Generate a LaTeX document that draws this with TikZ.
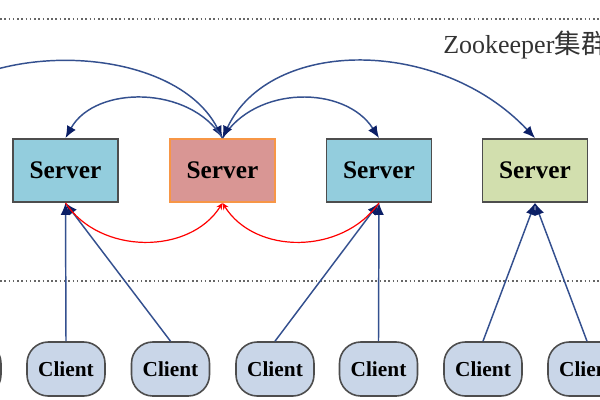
\documentclass[tikz,border=0pt]{standalone}
\usepackage{fontspec}
\setmainfont{Liberation Serif}
\newfontfamily\cjk{Noto Sans CJK SC}
\usetikzlibrary{arrows.meta}
\definecolor{srvblue}{HTML}{93CDDD}
\definecolor{srvred}{HTML}{D99694}
\definecolor{srvredb}{HTML}{F79646}
\definecolor{srvgreen}{HTML}{D2DFAE}
\definecolor{clifill}{HTML}{C9D6E8}
\definecolor{bord}{HTML}{4D4D4D}
\definecolor{navyln}{HTML}{34508F}
\definecolor{navytip}{HTML}{0B1F66}
\definecolor{dotgray}{HTML}{666666}
\tikzset{
  navyhead/.tip={Latex[length=9pt,width=7.5pt,color=navytip]},
  serverbox/.style={draw=bord, line width=1.4pt, minimum width=78.75pt, minimum height=47.25pt, inner sep=0pt, font=\fontsize{19}{21}\selectfont\bfseries},
  clientbox/.style={draw=bord, fill=clifill, line width=1.2pt, rounded corners=16pt, minimum width=58.5pt, minimum height=40.5pt, inner sep=0pt, font=\fontsize{16}{18}\selectfont\bfseries},
  bluearrow/.style={draw=navyln, line width=1.1pt, -navyhead},
  redarrow/.style={draw=red, line width=0.9pt, -{Stealth[length=5pt,width=4.5pt]}},
  dotline/.style={draw=dotgray, line width=1.1pt, dash pattern=on 1.2pt off 2pt},
}
\begin{document}
\begin{tikzpicture}[x=0.75pt,y=-0.75pt]
\useasboundingbox (0,0) rectangle (600,400);
\clip (0,0) rectangle (600,400);
\fill[white] (0,0) rectangle (600,400);
% dotted separators
\coordinate (d1a) at (0,19);
\coordinate (d1b) at (600,19);
\coordinate (d2a) at (0,281);
\coordinate (d2b) at (600,281);
\draw[dotline] (d1a) -- (d1b);
\draw[dotline] (d2a) -- (d2b);
% label
\node[anchor=base west, inner sep=0pt, text=black!80, font=\fontsize{19.5}{21}\selectfont] (lbl) at (443,53) {Zookeeper{\cjk\fontsize{20}{22}\selectfont 集群}};
% servers
\node[serverbox, fill=srvblue] (s1) at (65.5,170.5) {Server};
\node[serverbox, fill=srvred, draw=srvredb] (s2) at (222.5,170.5) {Server};
\node[serverbox, fill=srvblue] (s3) at (379,170.5) {Server};
\node[serverbox, fill=srvgreen] (s4) at (535,170.5) {Server};
% clients
\node[clientbox] (c0) at (-38,369) {Client};
\node[clientbox] (c1) at (66,369) {Client};
\node[clientbox] (c2) at (170.5,369) {Client};
\node[clientbox] (c3) at (275,369) {Client};
\node[clientbox] (c4) at (378.5,369) {Client};
\node[clientbox] (c5) at (483,369) {Client};
\node[clientbox] (c6) at (587,369) {Client};
% client to server
\draw[bluearrow] (c1.north) -- (s1.south);
\draw[bluearrow] (c2.north) -- (s1.south);
\draw[bluearrow] (c3.north) -- (s3.south);
\draw[bluearrow] (c4.north) -- (s3.south);
\draw[bluearrow] (c5.north) -- (s4.south);
\draw[bluearrow] (c6.north) -- (s4.south);
% red arcs
\draw[redarrow] (s1.south) .. controls (100,255) and (190,255) .. (s2.south);
\draw[redarrow] (s3.south) .. controls (342,255) and (255,255) .. (s2.south);
% top arcs
\coordinate (off) at (-100,139);
\draw[bluearrow] (off) .. controls (-50,36) and (170,36) .. (s2.north);
\draw[bluearrow] (s2.north) .. controls (190,85) and (95,85) .. (s1.north);
\draw[bluearrow] (s2.north) .. controls (255,85) and (345,85) .. (s3.north);
\draw[bluearrow, navyhead-navyhead] (s2.north) .. controls (270,37) and (440,37) .. (s4.north);
\end{tikzpicture}
\end{document}
